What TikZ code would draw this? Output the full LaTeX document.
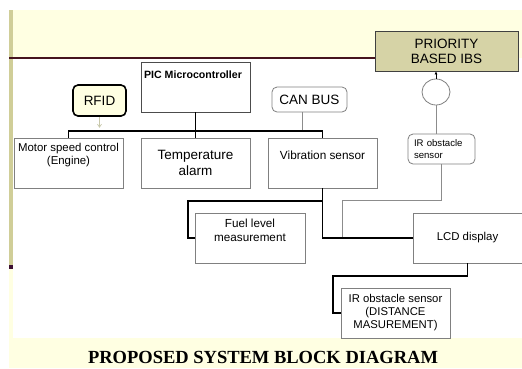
\documentclass[tikz,border=0pt]{standalone}
\usepackage{fontspec}
\setmainfont{Liberation Sans}
\newfontfamily\titlefont{Liberation Serif}
\usetikzlibrary{arrows.meta,shapes.geometric}
\definecolor{cream}{RGB}{255,255,226}
\definecolor{olivebar}{RGB}{208,206,152}
\definecolor{olivebox}{RGB}{214,211,166}
\definecolor{maroonline}{RGB}{70,20,30}
\definecolor{plum}{RGB}{60,15,50}
\definecolor{boxgray}{RGB}{128,128,128}
\definecolor{wiregray}{RGB}{140,140,140}
\definecolor{arrowolive}{RGB}{200,200,170}
\tikzset{
  block/.style={draw=boxgray, line width=0.8pt, fill=white, minimum width=109pt,
    minimum height=50pt, inner sep=0pt, align=center},
  rblock/.style={draw=boxgray, line width=0.8pt, fill=white, rounded corners=5pt, align=center},
  txt/.style={align=center, font=\fontsize{11.4}{13.5}\selectfont},
  bus/.style={line width=1.8pt, black},
  wire/.style={line width=0.8pt, wiregray},
}
\begin{document}
\begin{tikzpicture}[x=1pt,y=-1pt]
    \useasboundingbox (0,0) rectangle (522,368);
    % Slide background
    \fill[white] (0,0) rectangle (522,368);
    \fill[cream] (13,10) rectangle (522,58);
    \fill[cream] (9,269) rectangle (13,368);
    \fill[cream] (9,338) rectangle (522,368);
    \fill[olivebar] (9,10) rectangle (13,265);
    \fill[plum] (9,265) rectangle (13,269);
    \draw[maroonline, line width=1.5pt] (9,58) -- (375,58);
    % Blocks
    \node[draw=black!75, line width=0.8pt, fill=olivebox, minimum width=143pt, minimum height=40pt,
      align=center, font=\fontsize{13.5}{15}\selectfont] (ibs) at (446.5,51) {PRIORITY\\BASED IBS};
    \node[block, draw=black!70, label={[anchor=north west, yshift=-5.5pt,
      font=\bfseries\fontsize{10.6}{12}\selectfont]north west:PIC Microcontroller}] (pic) at (195.5,87) {};
    \node[rblock, draw=black, line width=1.6pt, fill=cream, minimum width=53pt, minimum height=31pt,
      font=\fontsize{13.5}{15}\selectfont] (rfid) at (99.5,100.5) {RFID};
    \node[rblock, minimum width=75pt, minimum height=25pt,
      font=\fontsize{13.5}{15}\selectfont] (canbus) at (309.5,99.5) {CAN BUS};
    \node[draw=boxgray, line width=0.8pt, ellipse, minimum width=28pt, minimum height=26pt,
      inner sep=0pt] (ring) at (436,92) {};
    \node[rblock, text width=55pt, inner xsep=6pt, minimum height=30pt, align=left,
      font=\fontsize{9.6}{11.5}\selectfont] (irsens) at (441.5,149) {IR obstacle\\sensor};
    \node[block, label={[txt, anchor=north, yshift=-2pt]north:Motor speed control\\(Engine)}]
      (motor) at (68.5,163) {};
    \node[block, font=\fontsize{13.5}{15.5}\selectfont] (temp) at (195.5,163) {Temperature\\alarm};
    \node[block, label={[txt, anchor=north, yshift=-9.5pt, font=\fontsize{11.8}{14}\selectfont]north:Vibration sensor}]
      (vib) at (322.5,163) {};
    \node[block, minimum width=110pt, label={[txt, anchor=north, yshift=-3pt, font=\fontsize{11.7}{13.5}\selectfont]north:Fuel level\\measurement}]
      (fuel) at (250,238) {};
    \node[block, font=\fontsize{11.4}{13.5}\selectfont] (lcd) at (467.5,238) {LCD display};
    \node[block, font=\fontsize{11.3}{13}\selectfont] (irdist) at (395.5,313)
      {IR obstacle sensor\\(DISTANCE\\MASUREMENT)};
    % Thin connectors
    \coordinate (busy) at (195.5,131);
    \coordinate (canout) at ([xshift=-7.5pt]canbus.south);
    \draw[wire] (canout) -- (canout |- busy);
    \draw[arrowolive, line width=0.7pt, -{Straight Barb[length=3pt,width=4pt]}] (rfid.south) -- ++(0,11);
    \draw[line width=0.6pt, -{Latex[length=3pt,width=3pt]}] (ring.north) -- (ring.north |- ibs.south);
    \draw[wire] (ring.south) -- (ring.south |- irsens.north);
    \coordinate (irjog) at (342,200);
    \draw[wire] (irsens.south) |- (irjog) -- (irjog |- lcd.west);
    % Thick bus lines
    \draw[bus] (pic.south) -- (temp.north);
    \draw[bus] (motor.north) |- (busy) -| (vib.north);
    \coordinate (fueljog) at (188,201);
    \draw[bus] (vib.south) -- (vib.south |- lcd.west) -- (lcd.west);
    \draw[bus] (vib.south |- fueljog) -- (fueljog) |- (fuel.west);
    \coordinate (lcdjog) at (333,276);
    \draw[bus] (lcd.south) |- (lcdjog) |- (irdist.west);
    % Caption
    \node[font=\titlefont\bfseries\fontsize{18.5}{22}\selectfont] (title) at (263,357)
      {PROPOSED SYSTEM BLOCK DIAGRAM};
\end{tikzpicture}
\end{document}
